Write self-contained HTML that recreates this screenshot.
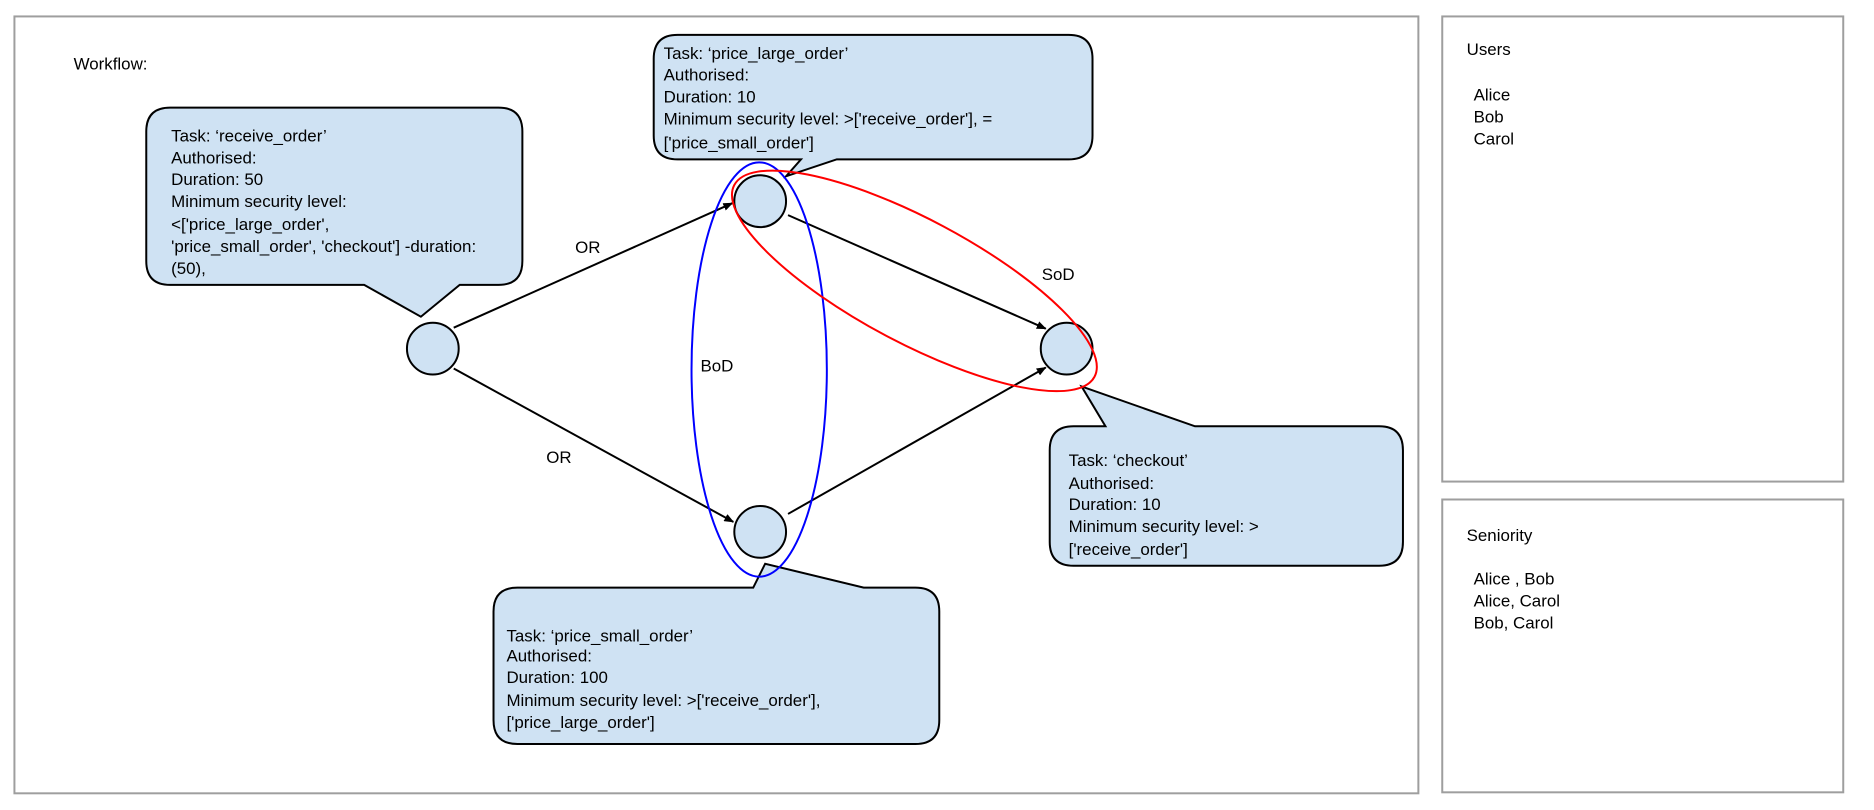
<!DOCTYPE html>
<html><head><meta charset="utf-8"><style>
html,body{margin:0;padding:0;background:#fff;}
svg{display:block;font-family:"Liberation Sans",Arial,sans-serif;font-size:17px;}
</style></head><body>
<svg width="1874" height="810" viewBox="0 0 1874 810" xmlns="http://www.w3.org/2000/svg">
<defs><marker id="a" markerWidth="10" markerHeight="8" refX="9" refY="4" orient="auto" markerUnits="userSpaceOnUse"><path d="M0,0 L10,4 L0,8 z" fill="#000"/></marker></defs>
<g transform="scale(0.995,0.996)">
<rect x="14.5" y="16.5" width="1411" height="780" fill="#fff" stroke="#9e9e9e" stroke-width="2"/>
<rect x="1449.5" y="16.5" width="403" height="467" fill="#fff" stroke="#9e9e9e" stroke-width="2"/>
<rect x="1449.5" y="501.5" width="403" height="294" fill="#fff" stroke="#9e9e9e" stroke-width="2"/>
<text x="74" y="70">Workflow:</text>
<text x="1474" y="55">Users</text>
<text x="1481" y="101">Alice</text><text x="1481" y="123">Bob</text><text x="1481" y="145">Carol</text>
<text x="1474" y="543">Seniority</text>
<text x="1481" y="587">Alice , Bob</text><text x="1481" y="609">Alice, Carol</text><text x="1481" y="631">Bob, Carol</text>
<g fill="#cfe2f3" stroke="#000" stroke-width="2">
<path d="M171,108 H501 Q525,108 525,132 V262 Q525,286 501,286 H462 L423,318 L366,286 H171 Q147,286 147,262 V132 Q147,108 171,108 Z"/>
<path d="M681,35 H1074 Q1098,35 1098,59 V136 Q1098,160 1074,160 H841 L790,177 L805,160 H681 Q657,160 657,136 V59 Q657,35 681,35 Z"/>
<path d="M1079,428 H1111 L1087,388 L1201,428 H1386 Q1410,428 1410,452 V544 Q1410,568 1386,568 H1079 Q1055,568 1055,544 V452 Q1055,428 1079,428 Z"/>
<path d="M520,590 H757 L769,566 L868,590 H920 Q944,590 944,614 V723 Q944,747 920,747 H520 Q496,747 496,723 V614 Q496,590 520,590 Z"/>
</g>
<g>
<text x="172" y="142">Task: ‘receive_order’</text>
<text x="172" y="164">Authorised:</text>
<text x="172" y="186">Duration: 50</text>
<text x="172" y="208">Minimum security level:</text>
<text x="172" y="231">&lt;['price_large_order',</text>
<text x="172" y="253">'price_small_order', 'checkout'] -duration:</text>
<text x="172" y="275">(50),</text>
<text x="667" y="59">Task: ‘price_large_order’</text>
<text x="667" y="81">Authorised:</text>
<text x="667" y="103">Duration: 10</text>
<text x="667" y="125">Minimum security level: &gt;['receive_order'], =</text>
<text x="667" y="149">['price_small_order']</text>
<text x="1074" y="468">Task: ‘checkout’</text>
<text x="1074" y="491">Authorised:</text>
<text x="1074" y="512">Duration: 10</text>
<text x="1074" y="534">Minimum security level: &gt;</text>
<text x="1074" y="557">['receive_order']</text>
<text x="509" y="644">Task: ‘price_small_order’</text>
<text x="509" y="664">Authorised:</text>
<text x="509" y="686">Duration: 100</text>
<text x="509" y="709">Minimum security level: &gt;['receive_order'],</text>
<text x="509" y="731">['price_large_order']</text>
</g>
<g stroke="#000" stroke-width="2" fill="none" marker-end="url(#a)">
<line x1="456" y1="329" x2="736" y2="204"/>
<line x1="456" y1="370" x2="737" y2="524"/>
<line x1="792" y1="216" x2="1051" y2="330"/>
<line x1="792" y1="516" x2="1051" y2="369"/>
</g>
<g fill="#cfe2f3" stroke="#000" stroke-width="2">
<circle cx="435" cy="350" r="26"/>
<circle cx="764" cy="202" r="26"/>
<circle cx="764" cy="534" r="26"/>
<circle cx="1072" cy="350" r="26"/>
</g>
<ellipse cx="763" cy="371" rx="68" ry="208" fill="none" stroke="#0000ff" stroke-width="2"/>
<ellipse cx="0" cy="0" rx="205" ry="62" fill="none" stroke="#ff0000" stroke-width="2" transform="translate(919,282) rotate(28)"/>
<text x="578" y="254">OR</text>
<text x="549" y="465">OR</text>
<text x="1047" y="281">SoD</text>
<text x="704" y="373">BoD</text>
</g>
</svg>
</body></html>
